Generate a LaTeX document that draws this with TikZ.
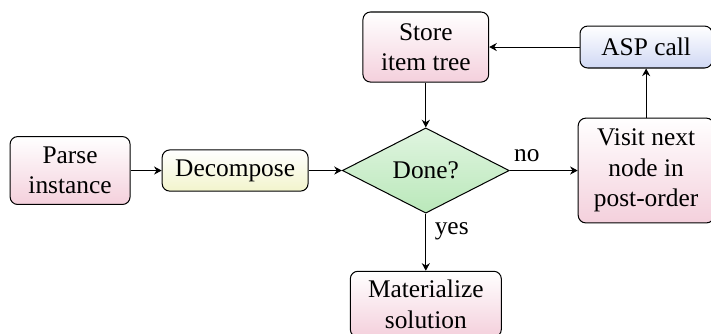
\documentclass[tikz,border=0pt]{standalone}
\usepackage{fontspec}
\setmainfont{Liberation Serif}
\usetikzlibrary{arrows.meta,positioning,shapes.geometric}
\definecolor{stepPink}{RGB}{244,208,220}
\definecolor{stepYellow}{RGB}{242,244,204}
\definecolor{stepGreen}{RGB}{186,232,186}
\definecolor{stepBlue}{RGB}{208,216,244}

\begin{document}
\begin{tikzpicture}[
  stepbox/.style={
    draw,
    rounded corners=3pt,
    align=center,
    inner sep=2pt,
    top color=white
  },
  decision/.style={
    draw,
    diamond,
    aspect=2,
    minimum width=2.31cm,
    minimum height=1.18cm,
    inner sep=1pt,
    top color=stepGreen!45,
    bottom color=stepGreen
  },
  arrow/.style={-{Stealth[length=3pt,width=3.2pt]}}
]
  \useasboundingbox (0,0) rectangle (9.84,4.61);
  \node[stepbox,bottom color=stepPink,minimum width=1.66cm,minimum height=0.94cm]
    (parse) at (0.97,2.25) {Parse\\instance};
  \node[stepbox,bottom color=stepYellow,minimum width=2.02cm,minimum height=0.57cm,
    right=0.43cm of parse] (decompose) {Decompose};
  \node[decision,right=0.46cm of decompose] (done) {Done?};
  \node[stepbox,bottom color=stepPink,minimum width=1.88cm,minimum height=1.45cm,
    right=0.94cm of done] (visit) {Visit next\\node in\\post-order};
  \node[stepbox,bottom color=stepBlue,minimum width=1.83cm,minimum height=0.58cm,
    above=0.68cm of visit] (asp) {ASP call};
  \node[stepbox,bottom color=stepPink,minimum width=1.74cm,minimum height=0.97cm,
    above=0.62cm of done] (store) {Store\\item tree};
  \node[stepbox,bottom color=stepPink,minimum width=2.09cm,minimum height=0.91cm,
    below=0.79cm of done] (materialize) {Materialize\\solution};

  \draw[arrow] (parse) -- (decompose);
  \draw[arrow] (decompose) -- (done);
  \draw[arrow] (done) -- node[above,pos=0.25]{no} (visit);
  \draw[arrow] (visit) -- (asp);
  \draw[arrow] (asp) -- (store);
  \draw[arrow] (store) -- (done);
  \draw[arrow] (done) -- node[right,pos=0.3]{yes} (materialize);
\end{tikzpicture}
\end{document}
